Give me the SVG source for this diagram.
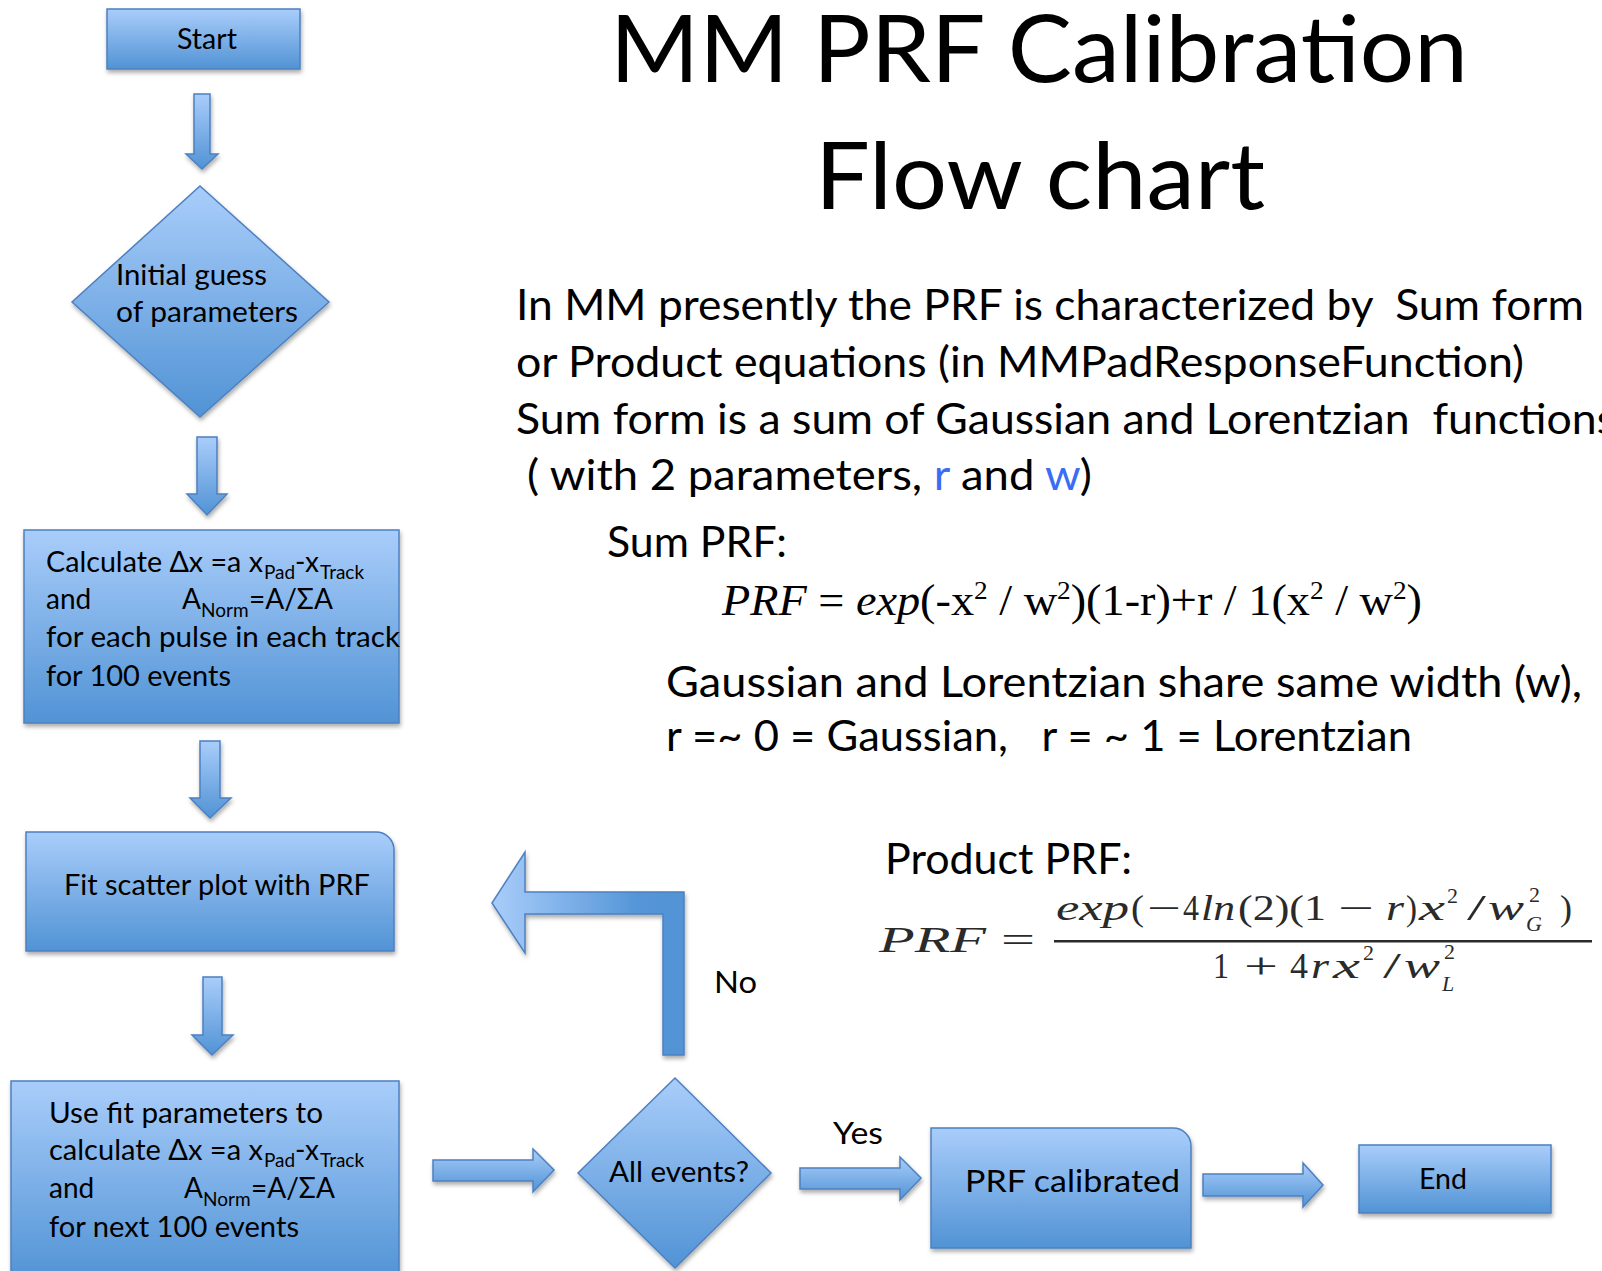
<svg xmlns="http://www.w3.org/2000/svg" width="1602" height="1271" viewBox="0 0 1602 1271">
<defs>
<linearGradient id="gV" x1="0" y1="0" x2="0" y2="1">
<stop offset="0" stop-color="#A9CDFA"/>
<stop offset="1" stop-color="#5193D5"/>
</linearGradient>
<linearGradient id="gH" x1="0" y1="0" x2="1" y2="0">
<stop offset="0" stop-color="#A9CDFA"/>
<stop offset="0.75" stop-color="#5596D8"/>
<stop offset="1" stop-color="#5193D5"/>
</linearGradient>
<filter id="sh" x="-10%" y="-10%" width="130%" height="140%">
<feDropShadow dx="1" dy="3" stdDeviation="2" flood-color="#000" flood-opacity="0.33"/>
</filter>
<style>
.shape{fill:url(#gV);stroke:#4D80C0;stroke-width:1.5;filter:url(#sh)}
.loop{fill:url(#gH);stroke:#4D80C0;stroke-width:1.5;filter:url(#sh)}
.t{font-family:Lato,"Liberation Sans",sans-serif;fill:#000}
.fc{font-size:28px}
.sub{font-size:19px}
.body{font-size:42px}
.title{font-size:94px}
.serif{font-family:"Liberation Serif","DejaVu Serif",serif;fill:#000}
.cm{font-family:"Liberation Serif","DejaVu Serif",serif;fill:#2a2a2a;font-size:35px}
.cms{font-size:22px}
.it{font-style:italic}
.blue{fill:#3A6CF4}
</style>
</defs>

<g id="title">
<text class="t title" x="610" y="82" textLength="858" lengthAdjust="spacingAndGlyphs">MM PRF Calibration</text>
<text class="t title" x="815" y="209" textLength="450" lengthAdjust="spacingAndGlyphs">Flow chart</text>
</g>

<g id="description">
<text class="t body" x="516" y="320" xml:space="preserve" textLength="1068" lengthAdjust="spacingAndGlyphs">In MM presently the PRF is characterized by  Sum form</text>
<text class="t body" x="516" y="377" textLength="1008" lengthAdjust="spacingAndGlyphs">or Product equations (in MMPadResponseFunction)</text>
<text class="t body" x="516" y="434" xml:space="preserve" textLength="1100" lengthAdjust="spacingAndGlyphs">Sum form is a sum of Gaussian and Lorentzian  functions</text>
<text class="t body" x="527" y="490" textLength="565" lengthAdjust="spacingAndGlyphs">( with 2 parameters, <tspan class="blue">r</tspan> and <tspan class="blue">w</tspan>)</text>
</g>

<g id="sum-prf">
<text class="t body" x="607" y="557" textLength="180" lengthAdjust="spacingAndGlyphs">Sum PRF:</text>
<text class="serif" font-size="44" x="722" y="615" textLength="700" lengthAdjust="spacingAndGlyphs"><tspan class="it">PRF</tspan> = <tspan class="it">exp</tspan>(-x<tspan font-size="26" dy="-16">2</tspan><tspan dy="16"> / w</tspan><tspan font-size="26" dy="-16">2</tspan><tspan dy="16">)(1-r)+r / 1(x</tspan><tspan font-size="26" dy="-16">2</tspan><tspan dy="16"> / w</tspan><tspan font-size="26" dy="-16">2</tspan><tspan dy="16">)</tspan></text>
<text class="t body" x="666" y="697" textLength="916" lengthAdjust="spacingAndGlyphs">Gaussian and Lorentzian share same width (w),</text>
<text class="t body" x="666" y="751" xml:space="preserve" textLength="746" lengthAdjust="spacingAndGlyphs">r =~ 0 = Gaussian,   r = ~ 1 = Lorentzian</text>
</g>

<g id="product-prf">
<text class="t body" x="885" y="874" textLength="247" lengthAdjust="spacingAndGlyphs">Product PRF:</text>
<text class="cm" font-size="40" y="952"><tspan class="it" x="879" textLength="107" lengthAdjust="spacingAndGlyphs">PRF</tspan><tspan x="1001" textLength="34" lengthAdjust="spacingAndGlyphs">=</tspan></text>
<text class="cm" y="920"><tspan class="it" x="1056" textLength="73" lengthAdjust="spacingAndGlyphs">exp</tspan><tspan x="1131" textLength="13" lengthAdjust="spacingAndGlyphs">(</tspan><tspan x="1147" textLength="34" lengthAdjust="spacingAndGlyphs">−</tspan><tspan x="1183" textLength="16" lengthAdjust="spacingAndGlyphs">4</tspan><tspan class="it" x="1201" textLength="34" lengthAdjust="spacingAndGlyphs">ln</tspan><tspan x="1238" textLength="88" lengthAdjust="spacingAndGlyphs">(2)(1</tspan><tspan x="1338" textLength="36" lengthAdjust="spacingAndGlyphs">−</tspan><tspan class="it" x="1386" textLength="18" lengthAdjust="spacingAndGlyphs">r</tspan><tspan x="1406" textLength="11" lengthAdjust="spacingAndGlyphs">)</tspan><tspan class="it" x="1419" textLength="26" lengthAdjust="spacingAndGlyphs">x</tspan><tspan class="cms" x="1447" y="903">2</tspan><tspan x="1467" y="920" textLength="19" lengthAdjust="spacingAndGlyphs">/</tspan><tspan class="it" x="1488" textLength="36" lengthAdjust="spacingAndGlyphs">w</tspan><tspan class="cms" x="1529" y="902">2</tspan><tspan class="it cms" x="1526" y="931">G</tspan><tspan x="1560" y="920" textLength="12" lengthAdjust="spacingAndGlyphs">)</tspan></text>
<rect x="1054" y="940" width="538" height="2.5" fill="#2a2a2a"/>
<text class="cm" y="978"><tspan x="1213" textLength="16" lengthAdjust="spacingAndGlyphs">1</tspan><tspan x="1244" textLength="34" lengthAdjust="spacingAndGlyphs">+</tspan><tspan x="1290" textLength="18" lengthAdjust="spacingAndGlyphs">4</tspan><tspan class="it" x="1311" textLength="18" lengthAdjust="spacingAndGlyphs">r</tspan><tspan class="it" x="1333" textLength="27" lengthAdjust="spacingAndGlyphs">x</tspan><tspan class="cms" x="1363" y="960">2</tspan><tspan x="1383" y="978" textLength="18" lengthAdjust="spacingAndGlyphs">/</tspan><tspan class="it" x="1404" textLength="36" lengthAdjust="spacingAndGlyphs">w</tspan><tspan class="cms" x="1444" y="959">2</tspan><tspan class="it cms" x="1442" y="991">L</tspan></text>
</g>

<g id="connectors">
<polygon class="shape" points="194,94 210,94 210,154 218,154 202,169 186,154 194,154"/>
<polygon class="shape" points="197,437 217,437 217,494 227,494 207,515 187,494 197,494"/>
<polygon class="shape" points="200,741 220,741 220,798 231,798 210,818 190,798 200,798"/>
<polygon class="shape" points="203,977 222,977 222,1035 233,1035 212,1055 192,1035 203,1035"/>
<polygon class="shape" points="433,1160 533,1160 533,1149 554,1170 533,1192 533,1181 433,1181"/>
<polygon class="shape" points="800,1168 900,1168 900,1157 921,1178 900,1200 900,1189 800,1189"/>
<polygon class="shape" points="1203,1174 1303,1174 1303,1163 1323,1185 1303,1207 1303,1196 1203,1196"/>
<polygon class="loop" points="663,1055 663,914 525,914 525,953 492,903 525,852 525,892 684,892 684,1055"/>
<text class="t" font-size="31" x="714" y="993" textLength="43" lengthAdjust="spacingAndGlyphs">No</text>
<text class="t" font-size="31" x="833" y="1144" textLength="50" lengthAdjust="spacingAndGlyphs">Yes</text>
</g>

<g id="node-start">
<rect class="shape" x="107" y="9" width="193" height="60"/>
<text class="t fc" x="177" y="49" textLength="60" lengthAdjust="spacingAndGlyphs">Start</text>
</g>

<g id="node-initial-guess">
<polygon class="shape" points="200,186 329,302 200,417 72,302"/>
<text class="t fc" x="116" y="285" textLength="151" lengthAdjust="spacingAndGlyphs">Initial guess</text>
<text class="t fc" x="116" y="322" textLength="182" lengthAdjust="spacingAndGlyphs">of parameters</text>
</g>

<g id="node-calculate">
<rect class="shape" x="24" y="530" width="375" height="193"/>
<text class="t fc" x="46" y="572"><tspan x="46" textLength="217" lengthAdjust="spacingAndGlyphs">Calculate Δx =a x</tspan><tspan class="sub" x="264" y="579">Pad</tspan><tspan x="295" y="572">-x</tspan><tspan class="sub" x="320" y="579">Track</tspan></text>
<text class="t fc" x="46" y="609"><tspan x="46">and</tspan><tspan x="182">A</tspan><tspan class="sub" x="201" y="617">Norm</tspan><tspan x="249" y="609">=A/ΣA</tspan></text>
<text class="t fc" x="46" y="647" textLength="354" lengthAdjust="spacingAndGlyphs">for each pulse in each track</text>
<text class="t fc" x="46" y="686" textLength="185" lengthAdjust="spacingAndGlyphs">for 100 events</text>
</g>

<g id="node-fit">
<path class="shape" d="M26,832 H376 A18,18 0 0 1 394,850 V951 H26 Z"/>
<text class="t fc" x="64" y="895" textLength="306" lengthAdjust="spacingAndGlyphs">Fit scatter plot with PRF</text>
</g>

<g id="node-use-fit">
<rect class="shape" x="11" y="1081" width="388" height="200"/>
<text class="t fc" x="49" y="1123" textLength="274" lengthAdjust="spacingAndGlyphs">Use fit parameters to</text>
<text class="t fc" x="49" y="1160"><tspan x="49" textLength="214" lengthAdjust="spacingAndGlyphs">calculate Δx =a x</tspan><tspan class="sub" x="264" y="1167">Pad</tspan><tspan x="295" y="1160">-x</tspan><tspan class="sub" x="320" y="1167">Track</tspan></text>
<text class="t fc" x="49" y="1198"><tspan x="49">and</tspan><tspan x="184">A</tspan><tspan class="sub" x="203" y="1206">Norm</tspan><tspan x="251" y="1198">=A/ΣA</tspan></text>
<text class="t fc" x="49" y="1237" textLength="250" lengthAdjust="spacingAndGlyphs">for next 100 events</text>
</g>

<g id="node-all-events">
<polygon class="shape" points="675,1078 771,1173 675,1268 578,1173"/>
<text class="t fc" x="609" y="1182" textLength="140" lengthAdjust="spacingAndGlyphs">All events?</text>
</g>

<g id="node-prf-calibrated">
<path class="shape" d="M931,1128 H1173 A18,18 0 0 1 1191,1146 V1248 H931 Z"/>
<text class="t" font-size="31" x="965" y="1192" textLength="215" lengthAdjust="spacingAndGlyphs">PRF calibrated</text>
</g>

<g id="node-end">
<rect class="shape" x="1359" y="1145" width="192" height="68"/>
<text class="t fc" x="1419" y="1189" textLength="48" lengthAdjust="spacingAndGlyphs">End</text>
</g>
</svg>
